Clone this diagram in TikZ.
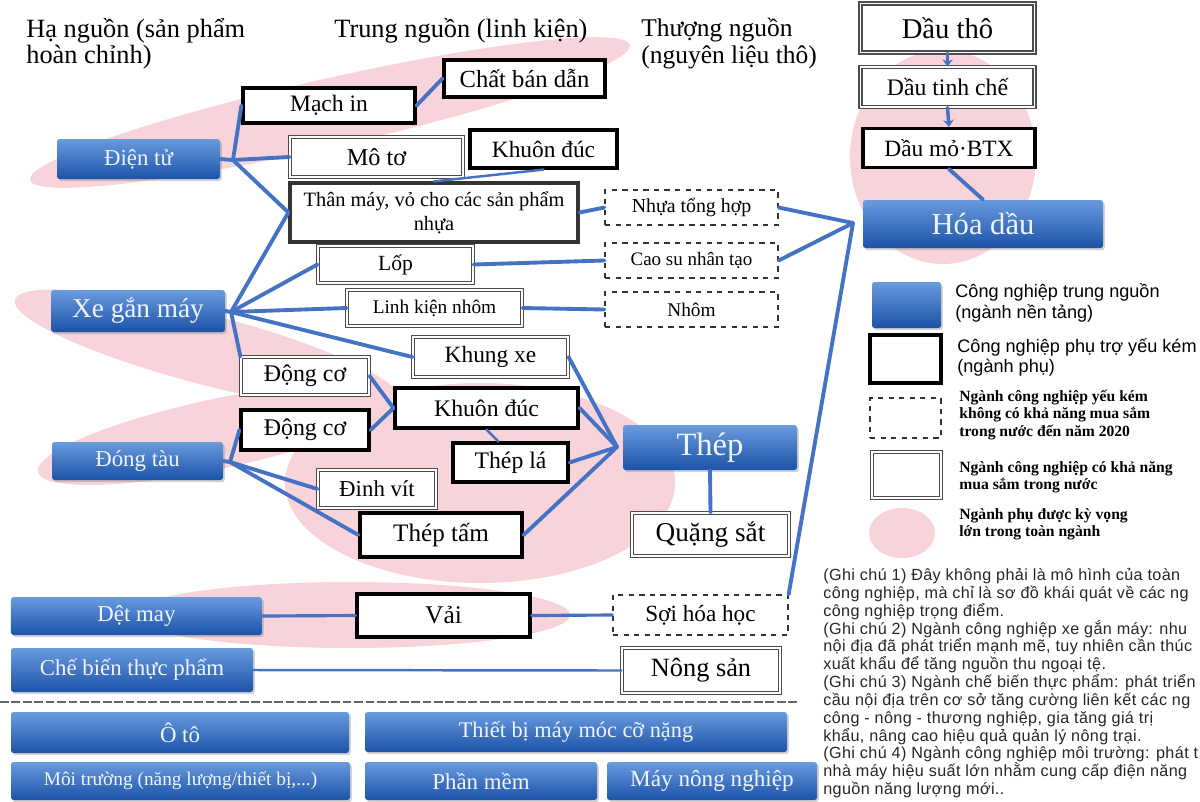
\documentclass[tikz,border=0pt]{standalone}
\usepackage{fontspec}
\setmainfont{Liberation Serif}
\newfontfamily\notefont[LetterSpace=2.4]{Liberation Sans}
\newfontfamily\legendfont{Liberation Sans}
\usetikzlibrary{arrows.meta,shadows}
\definecolor{linkblue}{RGB}{68,114,196}
\definecolor{boxtop}{RGB}{105,155,222}
\definecolor{boxbot}{RGB}{28,82,168}
\definecolor{pinkbg}{RGB}{248,212,218}
\tikzset{
  base/.style={rectangle, inner sep=1pt, align=center},
  core/.style={base, rounded corners=1.5pt, top color=boxtop, bottom color=boxbot,
    text=white!90!boxtop, drop shadow={opacity=0.35, shadow xshift=1pt, shadow yshift=-1.2pt}},
  weak/.style={base, draw=black, line width=1.8pt, fill=white},
  able/.style={base, draw=black!70, double=white, double distance=1.1pt, line width=0.7pt, fill=white},
  import/.style={base, draw=black!80, dashed, line width=0.7pt, fill=white},
  link/.style={draw=linkblue, line width=2.2pt, line cap=round},
  thinlink/.style={draw=linkblue, line width=1.4pt, line cap=round},
}

\begin{document}
\begin{tikzpicture}
  \useasboundingbox (0,0) rectangle (24,-16.02);

  % pink zones
  \fill[pinkbg, rotate around={12.7:(6.6,-2.25)}] (6.6,-2.25) ellipse [x radius=6.15, y radius=0.68];
  \fill[pinkbg, rotate around={-14.6:(4.15,-7)}] (4.15,-7) ellipse [x radius=3.98, y radius=0.7];
  \fill[pinkbg, rotate around={12:(4.38,-8.67)}] (4.38,-8.67) ellipse [x radius=3.7, y radius=0.7];
  \fill[pinkbg] (9.6,-9.66) ellipse [x radius=3.9, y radius=2.0];
  \fill[pinkbg] (18.86,-3.14) ellipse [x radius=1.86, y radius=2.14];
  \fill[pinkbg] (7,-12.3) ellipse [x radius=4.4, y radius=0.66];

  % column headers
  \node[anchor=north west, align=left, font=\fontsize{15}{15}\selectfont, inner sep=0]
    (hdrha) at (0.52,-0.36) {Hạ nguồn (sản phẩm\\hoàn chỉnh)};
  \node[anchor=north west, font=\fontsize{15}{15}\selectfont, inner sep=0]
    (hdrtrung) at (6.68,-0.36) {Trung nguồn (linh kiện)};
  \node[anchor=north west, align=left, font=\fontsize{14.5}{15}\selectfont, inner sep=0]
    (hdrthuong) at (12.82,-0.36) {Thượng nguồn\\(nguyên liệu thô)};

  % ha nguon
  \node[core, minimum width=3.26cm, minimum height=0.8cm, font=\fontsize{13}{15}\selectfont]
    (dientu) at (2.77,-3.18) {Điện tử};
  \node[core, minimum width=3.48cm, minimum height=0.84cm, font=\fontsize{15.5}{17}\selectfont]
    (xegm) at (2.76,-6.22) {Xe gắn máy};
  \node[core, minimum width=3.42cm, minimum height=0.76cm, font=\fontsize{13}{15}\selectfont]
    (dongtau) at (2.75,-9.22) {Đóng tàu};
  \node[core, minimum width=5.02cm, minimum height=0.76cm, font=\fontsize{13}{15}\selectfont]
    (detmay) at (2.73,-12.32) {Dệt may};
  \node[core, minimum width=4.84cm, minimum height=0.88cm, font=\fontsize{13}{15}\selectfont]
    (chebien) at (2.64,-13.4) {Chế biến thực phẩm};

  % trung nguon
  \node[weak, minimum width=3.44cm, minimum height=0.7cm, font=\fontsize{13.4}{15}\selectfont]
    (machin) at (6.58,-2.11) {Mạch in};
  \node[weak, minimum width=3.22cm, minimum height=0.74cm, font=\fontsize{14}{15}\selectfont]
    (chatbd) at (10.49,-1.57) {Chất bán dẫn};
  \node[able, minimum width=3.46cm, minimum height=0.8cm, font=\fontsize{13.8}{15}\selectfont]
    (moto) at (7.53,-3.14) {Mô tơ};
  \node[weak, minimum width=2.94cm, minimum height=0.76cm, font=\fontsize{13.3}{15}\selectfont]
    (khuon1) at (10.87,-2.98) {Khuôn đúc};
  \node[weak, draw=black!80, minimum width=5.76cm, minimum height=1.18cm, font=\fontsize{11.6}{13.5}\selectfont]
    (thanmay) at (8.68,-4.25) {Thân máy, vỏ cho các sản phẩm\\nhựa};
  \node[able, minimum width=3.1cm, minimum height=0.74cm, font=\fontsize{12.3}{14}\selectfont]
    (lop) at (7.91,-5.29) {Lốp};
  \node[able, minimum width=3.5cm, minimum height=0.72cm, font=\fontsize{11}{13}\selectfont]
    (lkn) at (8.69,-6.16) {Linh kiện nhôm};
  \node[able, minimum width=3.1cm, minimum height=0.8cm, font=\fontsize{13.3}{15}\selectfont]
    (khungxe) at (9.81,-7.14) {Khung xe};
  \node[able, minimum width=2.56cm, minimum height=0.76cm, font=\fontsize{13.6}{15}\selectfont]
    (dongco1) at (6.1,-7.52) {Động cơ};
  \node[weak, minimum width=3.66cm, minimum height=0.8cm, font=\fontsize{13.5}{15}\selectfont]
    (khuon2) at (9.73,-8.16) {Khuôn đúc};
  \node[weak, minimum width=2.56cm, minimum height=0.8cm, font=\fontsize{13.6}{15}\selectfont]
    (dongco2) at (6.1,-8.6) {Động cơ};
  \node[weak, minimum width=2.3cm, minimum height=0.78cm, font=\fontsize{13.5}{15}\selectfont]
    (thepla) at (10.21,-9.25) {Thép lá};
  \node[able, minimum width=2.36cm, minimum height=0.76cm, font=\fontsize{13}{15}\selectfont]
    (dinhvit) at (7.54,-9.78) {Đinh vít};
  \node[weak, minimum width=3.24cm, minimum height=0.88cm, font=\fontsize{14.3}{16}\selectfont]
    (theptam) at (8.82,-10.7) {Thép tấm};
  \node[weak, minimum width=3.46cm, minimum height=0.86cm, font=\fontsize{14.5}{16}\selectfont]
    (vai) at (8.87,-12.31) {Vải};

  % thuong nguon
  \node[import, minimum width=3.46cm, minimum height=0.7cm, font=\fontsize{11.3}{13}\selectfont]
    (nhua) at (13.83,-4.15) {Nhựa tổng hợp};
  \node[import, minimum width=3.46cm, minimum height=0.7cm, font=\fontsize{10.8}{13}\selectfont]
    (caosu) at (13.83,-5.21) {Cao su nhân tạo};
  \node[import, minimum width=3.46cm, minimum height=0.7cm, font=\fontsize{11}{13}\selectfont]
    (nhom) at (13.83,-6.19) {Nhôm};
  \node[core, minimum width=3.48cm, minimum height=0.9cm, font=\fontsize{18.5}{20}\selectfont]
    (thep) at (14.2,-8.95) {Thép};
  \node[able, minimum width=3.14cm, minimum height=0.86cm, font=\fontsize{15.5}{17}\selectfont]
    (quang) at (14.21,-10.69) {Quặng sắt};
  \node[import, minimum width=3.5cm, minimum height=0.8cm, font=\fontsize{13.2}{15}\selectfont]
    (soi) at (14.01,-12.3) {Sợi hóa học};
  \node[able, minimum width=3.16cm, minimum height=0.9cm, font=\fontsize{15}{17}\selectfont]
    (nongsan) at (14.02,-13.41) {Nông sản};

  % dau mo
  \node[able, minimum width=3.48cm, minimum height=0.98cm, font=\fontsize{16.3}{18}\selectfont]
    (dautho) at (18.95,-0.56) {Dầu thô};
  \node[able, minimum width=3.48cm, minimum height=0.8cm, font=\fontsize{13.5}{15}\selectfont]
    (dautinh) at (18.95,-1.74) {Dầu tinh chế};
  \node[weak, minimum width=3.44cm, minimum height=0.78cm, font=\fontsize{13.3}{15}\selectfont]
    (daumo) at (18.98,-2.96) {Dầu mỏ·BTX};
  \node[core, minimum width=4.8cm, minimum height=0.96cm, font=\fontsize{17.4}{19}\selectfont]
    (hoadau) at (19.66,-4.48) {Hóa dầu};

  % junctions
  \coordinate (jE) at (4.66,-3.2);
  \coordinate (jX) at (4.62,-6.24);
  \coordinate (jD) at (4.6,-9.24);
  \coordinate (jH) at (17.06,-4.46);
  \coordinate (jT) at (12.34,-8.94);

  % connectors
  \draw[link] (dientu.east) -- (jE);
  \draw[link] (jE) -- (machin.west);
  \draw[link] (jE) -- (moto.west);
  \draw[link] (jE) -- (thanmay.west);
  \draw[link] (machin.east) -- (chatbd.west);
  \draw[thinlink] (khuon1.south) -- (thanmay.north);
  \draw[link] (thanmay.east) -- (nhua.west);
  \draw[link] (xegm.east) -- (jX);
  \draw[link] (jX) -- (thanmay.west);
  \draw[link] (jX) -- (lop.west);
  \draw[link] (jX) -- (lkn.west);
  \draw[link] (jX) -- (khungxe.west);
  \draw[link] (jX) -- (dongco1.north west);
  \draw[link] (lop.east) -- (caosu.west);
  \draw[link] (lkn.east) -- (nhom.west);
  \draw[link] (nhua.east) -- (jH);
  \draw[link] (caosu.east) -- (jH);
  \draw[link] (jH) -- (soi.north east);
  \draw[link] (dongco1.east) -- (khuon2.west);
  \draw[link] (dongco2.east) -- (khuon2.west);
  \draw[thinlink] (khuon2.south) -- (thepla.120);
  \draw[link] (dongtau.east) -- (jD);
  \draw[link] (jD) -- (dongco2.west);
  \draw[link] (jD) -- (dinhvit.west);
  \draw[link] (jD) -- (theptam.west);
  \draw[link] (khungxe.east) -- (jT);
  \draw[link] (khuon2.east) -- (jT);
  \draw[link] (thepla.east) -- (jT);
  \draw[link] (theptam.east) -- (jT);
  \draw[link] (thep.south) -- (quang.north);
  \draw[link, line width=1.8pt] (detmay.east) -- (vai.west);
  \draw[link, line width=1.8pt] (vai.east) -- (soi.west);
  \draw[thinlink] (chebien.east) -- (nongsan.west);
  \draw[link, line width=2pt, -{Stealth[length=4pt, width=6pt]}] (dautho.south) -- (dautinh.north);
  \draw[link, line width=2pt, -{Stealth[length=4pt, width=6pt]}] (dautinh.south) -- (daumo.north);
  \draw[link] (daumo.south) -- (hoadau.north);

  % separator and other industries
  \draw[black!60, line width=1.2pt, dash pattern=on 5pt off 1.5pt] (0,-14.04) -- (15.94,-14.04);
  \node[core, minimum width=6.76cm, minimum height=0.82cm, font=\fontsize{13}{15}\selectfont]
    (oto) at (3.6,-14.65) {Ô tô};
  \node[core, minimum width=6.78cm, minimum height=0.76cm, font=\fontsize{11}{13}\selectfont]
    (moitruong) at (3.61,-15.62) {Môi trường (năng lượng/thiết bị,...)};
  \node[core, minimum width=8.44cm, minimum height=0.8cm, font=\fontsize{12.7}{15}\selectfont]
    (thietbi) at (11.52,-14.64) {Thiết bị máy móc cỡ nặng};
  \node[core, minimum width=4.64cm, minimum height=0.76cm, font=\fontsize{13}{15}\selectfont]
    (phanmem) at (9.62,-15.62) {Phần mềm};
  \node[core, minimum width=4.2cm, minimum height=0.76cm, font=\fontsize{13.2}{15}\selectfont]
    (maynn) at (14.24,-15.62) {Máy nông nghiệp};

  % legend
  \node[core, minimum width=1.38cm, minimum height=0.92cm] (lgcore) at (18.13,-6.1) {};
  \node[weak, minimum width=1.42cm, minimum height=0.96cm] (lgweak) at (18.11,-7.18) {};
  \node[import, minimum width=1.42cm, minimum height=0.8cm] (lgimport) at (18.11,-8.36) {};
  \node[able, minimum width=1.38cm, minimum height=0.92cm] (lgable) at (18.13,-9.5) {};
  \fill[pinkbg] (18.04,-10.66) ellipse [x radius=0.66, y radius=0.5];
  \node[anchor=west, align=left, inner sep=0, font=\legendfont\fontsize{10.3}{11.5}\selectfont]
    (lgcoretxt) at (19.1,-6.06) {Công nghiệp trung nguồn\\(ngành nền tảng)};
  \node[anchor=west, align=left, inner sep=0, font=\legendfont\fontsize{10.3}{11.5}\selectfont]
    (lgweaktxt) at (19.14,-7.15) {Công nghiệp phụ trợ yếu kém\\(ngành phụ)};
  \node[anchor=west, align=left, inner sep=0, font=\bfseries\fontsize{8.9}{9.9}\selectfont]
    (lgimporttxt) at (19.18,-8.3) {Ngành công nghiệp yếu kém\\không có khả năng mua sắm\\trong nước đến năm 2020};
  \node[anchor=west, align=left, inner sep=0, font=\bfseries\fontsize{8.9}{9.9}\selectfont]
    (lgabletxt) at (19.18,-9.55) {Ngành công nghiệp có khả năng\\mua sắm trong nước};
  \node[anchor=west, align=left, inner sep=0, font=\bfseries\fontsize{8.9}{9.9}\selectfont]
    (lgpinktxt) at (19.18,-10.48) {Ngành phụ được kỳ vọng\\lớn trong toàn ngành};

  % notes
  \node[anchor=north west, align=left, inner sep=0, text=black!85, font=\notefont\fontsize{9.2}{10.15}\selectfont]
    (notes) at (16.46,-11.36) {(Ghi chú 1) Đây không phải là mô hình của toàn\\
    công nghiệp, mà chỉ là sơ đồ khái quát về các ng\\
    công nghiệp trọng điểm.\\
    (Ghi chú 2) Ngành công nghiệp xe gắn máy: nhu\\
    nội địa đã phát triển mạnh mẽ, tuy nhiên cần thúc\\
    xuất khẩu để tăng nguồn thu ngoại tệ.\\
    (Ghi chú 3) Ngành chế biến thực phẩm: phát triển\\
    cầu nội địa trên cơ sở tăng cường liên kết các ng\\
    công - nông - thương nghiệp, gia tăng giá trị\\
    khẩu, nâng cao hiệu quả quản lý nông trại.\\
    (Ghi chú 4) Ngành công nghiệp môi trường: phát t\\
    nhà máy hiệu suất lớn nhằm cung cấp điện năng\\
    nguồn năng lượng mới..};
\end{tikzpicture}
\end{document}
